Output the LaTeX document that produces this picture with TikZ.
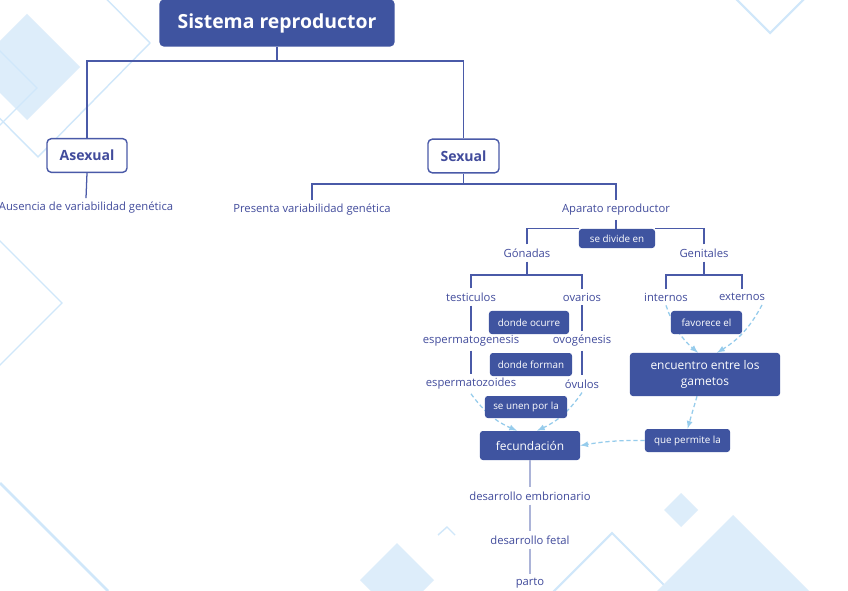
\documentclass[tikz,border=0pt]{standalone}
\usepackage{fontspec}
\setmainfont{Open Sans}
\usetikzlibrary{arrows}
\usetikzlibrary{backgrounds}
\definecolor{qblue}{RGB}{63,84,160}
\definecolor{qline}{RGB}{74,90,168}
\definecolor{qtext}{RGB}{66,76,156}
\definecolor{qpale}{RGB}{172,180,216}
\definecolor{qdash}{RGB}{150,204,236}
\definecolor{qsky}{RGB}{221,237,250}
\definecolor{qskyline}{RGB}{208,231,250}

\tikzset{
  titlebox/.style={fill=qblue, text=white, rounded corners=3pt, font=\bfseries\fontsize{13.8}{15}\selectfont, minimum width=5.875cm, minimum height=1.175cm},
  typebox/.style={draw=qline, line width=1pt, fill=white, text=qtext, rounded corners=3pt, font=\bfseries\fontsize{10}{11}\selectfont, minimum height=0.84cm},
  darkbox/.style={fill=qblue, text=white, rounded corners=2pt, font=\fontsize{7}{8}\selectfont, minimum height=0.575cm, inner sep=1pt},
  bigbox/.style={fill=qblue, text=white, rounded corners=2pt, font=\fontsize{8.5}{11}\selectfont, align=center, inner sep=1pt},
  lbl/.style={text=qtext, font=\fontsize{8}{9}\selectfont, inner sep=1pt, outer sep=2pt},
  tree/.style={draw=qline, line width=0.9pt},
  stem/.style={draw=qpale, line width=0.9pt},
  flow/.style={draw=qdash, line width=0.9pt, dash pattern=on 3pt off 2pt, -latex}
}

\begin{document}
\begin{tikzpicture}[x=0.025cm, y=-0.025cm]
\useasboundingbox (0,0) rectangle (848,591);

\begin{scope}[on background layer]
\clip (0,0) rectangle (848,591);
\fill[white] (0,0) rectangle (848,591);
\fill[qsky] (27,14) -- (80,67) -- (27,120) -- (-26,67) -- cycle;
\draw[qskyline, line width=1pt] (38,-70) -- (150,43) -- (38,157) -- (-75,43) -- cycle;
\draw[qskyline, line width=1pt] (0,51) -- (37,88) -- (0,125) -- (-37,88) -- cycle;
\draw[qskyline, line width=1pt] (0,241) -- (62,303) -- (0,365) -- (-62,303) -- cycle;
\draw[qskyline, line width=2pt] (0,483) -- (108,591);
\fill[qsky] (397,543) -- (434,580) -- (397,617) -- (360,580) -- cycle;
\draw[qskyline, line width=1pt] (438,535) -- (447,527) -- (455,535);
\draw[qskyline, line width=1.5pt] (612,533) -- (691,612) -- (612,691) -- (533,612) -- cycle;
\fill[qsky] (733,515) -- (810,592) -- (733,669) -- (656,592) -- cycle;
\fill[qsky] (681,493) -- (698,510) -- (681,527) -- (664,510) -- cycle;
\draw[qskyline, line width=1.5pt] (770,33) -- (830,-27) -- (770,-87) -- (710,-27) -- cycle;
\end{scope}

\node[titlebox] (title) at (277,23) {Sistema reproductor};
\node[typebox, minimum width=2cm] (asexual) at (87,155.5) {Asexual};
\node[typebox, minimum width=1.775cm] (sexual) at (463.5,156) {Sexual};

\node[lbl] (ausencia) at (86,208) {Ausencia de variabilidad genética};
\node[lbl] (presenta) at (312,210) {Presenta variabilidad genética};
\node[lbl] (aparato) at (616,210) {Aparato reproductor};
\node[darkbox, minimum width=1.9cm, minimum height=0.475cm] (divide) at (617,238.5) {se divide en};
\node[lbl] (gonadas) at (527,253) {Gónadas};
\node[lbl] (genitales) at (704,253) {Genitales};
\node[lbl] (testiculos) at (471,297) {testiculos};
\node[lbl] (ovarios) at (582,297) {ovarios};
\node[lbl] (internos) at (666,297) {internos};
\node[lbl] (externos) at (742,297) {externos};
\node[darkbox, minimum width=2cm] (ocurre) at (529,322.5) {donde ocurre};
\node[darkbox, minimum width=1.775cm] (favorece) at (706.5,322.5) {favorece el};
\node[lbl] (espermatogenesis) at (471,341) {espermatogenesis};
\node[lbl] (ovogenesis) at (582,341) {ovogénesis};
\node[darkbox, minimum width=2.05cm] (forman) at (531,364.5) {donde forman};
\node[bigbox, minimum width=3.75cm, minimum height=1.075cm] (encuentro) at (705,374.5) {encuentro entre los\\gametos};
\node[lbl] (espermatozoides) at (471,384) {espermatozoides};
\node[lbl] (ovulos) at (582,384) {óvulos};
\node[darkbox, minimum width=2.05cm, minimum height=0.55cm] (unen) at (526,407) {se unen por la};
\node[bigbox, minimum width=2.5cm, minimum height=0.725cm] (fecundacion) at (530,445.5) {fecundación};
\node[darkbox, minimum width=2.125cm] (permite) at (687.5,440.5) {que permite la};
\node[lbl] (embrionario) at (530,496) {desarrollo embrionario};
\node[lbl] (fetal) at (530,540) {desarrollo fetal};
\node[lbl] (parto) at (530,583) {parto};

\coordinate (tj) at (277,61);
\coordinate (sj) at (463.5,184);
\coordinate (gj) at (527,275);
\coordinate (ej) at (704,275);
\draw[tree] (title.south) -- (tj);
\draw[tree] (asexual.north) |- (tj) -| (sexual.north);
\draw[tree] (asexual.south) -- (ausencia.north);
\draw[tree] (sexual.south) -- (sj);
\draw[tree] (presenta.north) |- (sj) -| (aparato.north);
\draw[tree] (aparato.south) -- (aparato.south |- divide.north);
\draw[tree] (gonadas.north) |- (divide.north west);
\draw[tree] (genitales.north) |- (divide.north east);
\draw[tree] (gonadas.south) -- (gj);
\draw[tree] (testiculos.north) |- (gj) -| (ovarios.north);
\draw[tree] (genitales.south) -- (ej);
\draw[tree] (internos.north) |- (ej) -| (externos.north);
\draw[tree] (testiculos) -- (espermatogenesis) -- (espermatozoides);
\draw[tree] (ovarios) -- (ovogenesis) -- (ovulos);
\draw[stem] (fecundacion) -- (embrionario) -- (fetal) -- (parto);

\begin{scope}[on background layer]
\draw[flow] (espermatozoides.south) to[bend right=15] ([xshift=-0.325cm]fecundacion.north);
\draw[flow] (ovulos.south) to[bend left=15] ([xshift=0.175cm]fecundacion.north);
\draw[flow] (internos.south) to[bend right=15] ([xshift=-0.175cm]encuentro.north);
\draw[flow] ([xshift=0.5cm]externos.south) to[bend left=15] ([xshift=0.3cm]encuentro.north);
\draw[flow] ([xshift=-0.2cm]encuentro.south) -- (permite.north);
\draw[flow] (permite.west) to[bend right=5] (fecundacion.east);
\end{scope}
\end{tikzpicture}
\end{document}
